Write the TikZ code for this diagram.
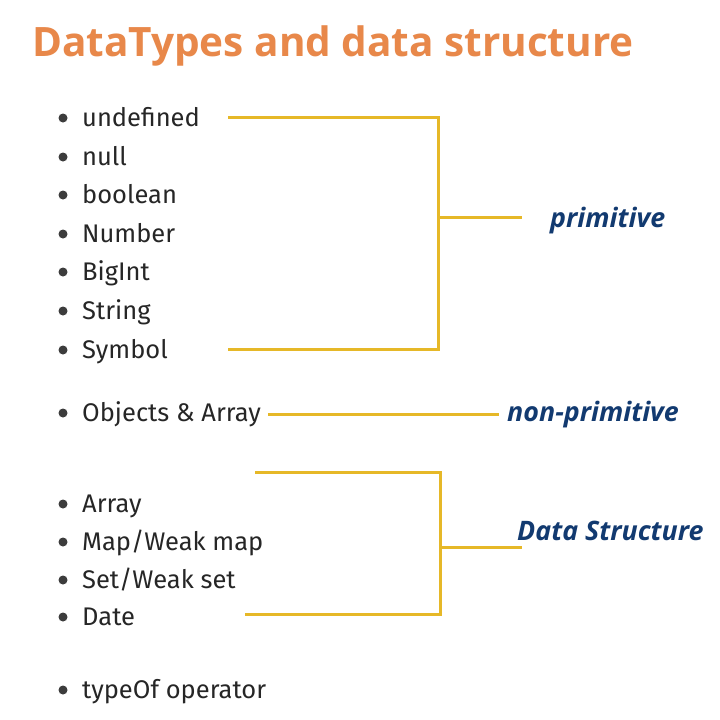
\documentclass[tikz,border=0pt]{standalone}
\usepackage{fontspec}
\setmainfont{Fira Sans}
\newfontfamily\titlefont{Open Sans}
\newfontfamily\labelfont{Open Sans}
\usetikzlibrary{positioning}

\definecolor{titleorange}{HTML}{E8884A}
\definecolor{bracegold}{HTML}{E6B828}
\definecolor{labelnavy}{HTML}{123A70}
\definecolor{itemgray}{HTML}{262626}

\tikzset{
  item/.style={anchor=base west, inner sep=0pt, text=itemgray, font=\fontsize{25.5}{30}\selectfont},
  dot/.style={fill=itemgray!90, circle, inner sep=0pt, minimum size=9pt},
  brace/.style={draw=bracegold, line width=3pt},
  kind/.style={anchor=base west, inner sep=0pt, text=labelnavy, font=\labelfont\bfseries\itshape\fontsize{26.8}{30}\selectfont}
}

\begin{document}
\begin{tikzpicture}[x=1pt, y=-1pt]
        \useasboundingbox[fill=white] (0,0) rectangle (720,720);
        \node[anchor=base west, inner sep=0pt, text=titleorange, font=\titlefont\bfseries\fontsize{40.5}{46}\selectfont] (title) at (32,56) {DataTypes and data structure};

        % the list of types
        \foreach \name/\y/\txt in {undef/118/undefined, null/157/null, bool/195/boolean, num/234/Number,
            bigint/272/BigInt, str/311/String, sym/350/Symbol, obj/413/{Objects \& Array},
            arr/504/Array, map/542/{Map/Weak map}, set/580/{Set/Weak set}, date/617/Date, typeof/690/{typeOf operator}}{
          \node[dot] at (63,\y) {};
          \node[item] (\name) at (82,\y+8) {\txt};
        }

        % labels
        \node[kind] (prim) at (550,227) {primitive};
        \node[kind] (nonprim) at (507,421.5) {non-primitive};
        \node[kind] (ds) at (517,540.5) {Data Structure};

        % primitive bracket
        \coordinate (p1) at (228,117);
        \coordinate (p2) at (228,349);
        \draw[brace] (p1) -- (438,117) -- (438,349) -- (p2);
        \draw[brace] (438,217.5) -- (522,217.5);

        % non-primitive
        \coordinate (n1) at (268,414);
        \coordinate (n2) at (499,414);
        \draw[brace] (n1) -- (n2);

        % data structure bracket
        \coordinate (d1) at (255,472);
        \coordinate (d2) at (245,614);
        \draw[brace] (d1) -- (440,472) -- (440,614) -- (d2);
        \draw[brace] (440,547) -- (522,547);
      \end{tikzpicture}
\end{document}
